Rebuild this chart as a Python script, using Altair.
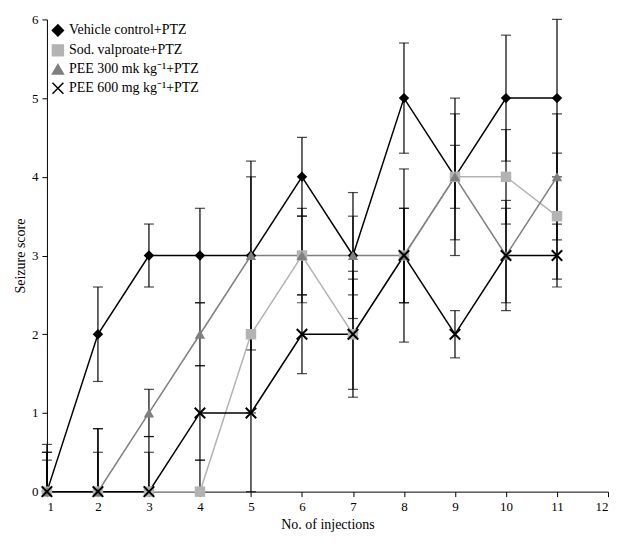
import altair as alt
import pandas as pd

injections = list(range(1, 12))
groups = ["Vehicle control+PTZ", "Sod. valproate+PTZ", "PEE 300 mk kg⁻¹+PTZ", "PEE 600 mg kg⁻¹+PTZ"]
vehicle = [0, 2, 3, 3, 3, 4, 3, 5, 4, 5, 5]
vehicle_err = [0.6, 0.6, 0.4, 0.6, 1.2, 0.5, 0.8, 0.7, 1.0, 0.8, 1.0]
valproate = [0, 0, 0, 0, 2, 3, 2, 3, 4, 4, 3.5]
valproate_err = [0.4, 0.5, 0.7, 0.4, 1.0, 0.5, 0.8, 0.6, 0.4, 0.6, 0.8]
pee300 = [0, 0, 1, 2, 3, 3, 3, 3, 4, 3, 4]
pee300_err = [0.5, 0.8, 0.3, 0.4, 1.0, 0.6, 0.5, 1.1, 0.8, 0.7, 0.8]
pee600 = [0, 0, 0, 1, 1, 2, 2, 3, 2, 3, 3]
pee600_err = [0.5, 0.8, 0.5, 0.6, 1.0, 0.5, 0.7, 0.6, 0.3, 0.6, 0.4]

rows = []
for g, vals, errs in zip(groups, [vehicle, valproate, pee300, pee600],
                         [vehicle_err, valproate_err, pee300_err, pee600_err]):
    for x, v, e in zip(injections, vals, errs):
        rows.append({"x": x, "y": v, "lo": max(v - e, 0), "hi": v + e, "group": g})
df = pd.DataFrame(rows)

xshape = "M-1,-1L1,1M-1,1L1,-1"
palette = ["#000000", "#b3b3b3", "#7f7f7f", "#000000"]
color = alt.Color("group:N", sort=groups,
                  scale=alt.Scale(domain=groups, range=palette),
                  legend=alt.Legend(title=None, orient="top-left", symbolStrokeWidth=1.5,
                                    labelFont="Liberation Serif", labelFontSize=14,
                                    symbolSize=120, fillColor="white", offset=4))
shape = alt.Shape("group:N", sort=groups,
                  scale=alt.Scale(domain=groups, range=["diamond", "square", "triangle-up", xshape]))

xaxis = alt.Axis(values=list(range(1, 13)), grid=False, tickSize=5, labelPadding=4, format="d")
yaxis = alt.Axis(values=list(range(0, 7)), grid=False, tickSize=5, labelPadding=4, format="d")
xenc = alt.X("x:Q", title="No. of injections", scale=alt.Scale(domain=[1, 12]), axis=xaxis)
yenc = alt.Y("y:Q", title="Seizure score", scale=alt.Scale(domain=[0, 6]), axis=yaxis)

base = alt.Chart(df)
bars = base.mark_rule(color="black", strokeWidth=1.2).encode(
    xenc, alt.Y("lo:Q", title="Seizure score", scale=alt.Scale(domain=[0, 6]), axis=yaxis),
    y2="hi:Q")
caps_lo = base.mark_tick(color="black", thickness=1.2, size=10, orient="horizontal").encode(
    x="x:Q", y="lo:Q")
caps_hi = base.mark_tick(color="black", thickness=1.2, size=10, orient="horizontal").encode(
    x="x:Q", y="hi:Q")
lines = base.mark_line(strokeWidth=1.5).encode(xenc, yenc, color=color, detail="group:N")
pts = base.transform_filter(alt.datum.group != groups[3]).mark_point(
    filled=True, size=110, opacity=1).encode(
    x="x:Q", y="y:Q",
    color=alt.Color("group:N", sort=groups, legend=None, scale=alt.Scale(domain=groups, range=palette)),
    shape=shape.legend(None))
xpts = base.transform_filter(alt.datum.group == groups[3]).mark_point(
    shape=xshape, size=110, color="black", strokeWidth=2, filled=False, opacity=1).encode(x="x:Q", y="y:Q")

chart = (bars + caps_lo + caps_hi + lines + pts + xpts).properties(width=562, height=473).configure_axis(
    labelFont="Liberation Serif", titleFont="Liberation Serif", labelFontSize=13, titleFontSize=14,
    titleFontWeight="normal", domainColor="black", tickColor="black", labelColor="black",
    titleColor="black"
).configure_view(stroke=None)

chart.save("out.html", embed_options={"renderer": "svg", "actions": False})
